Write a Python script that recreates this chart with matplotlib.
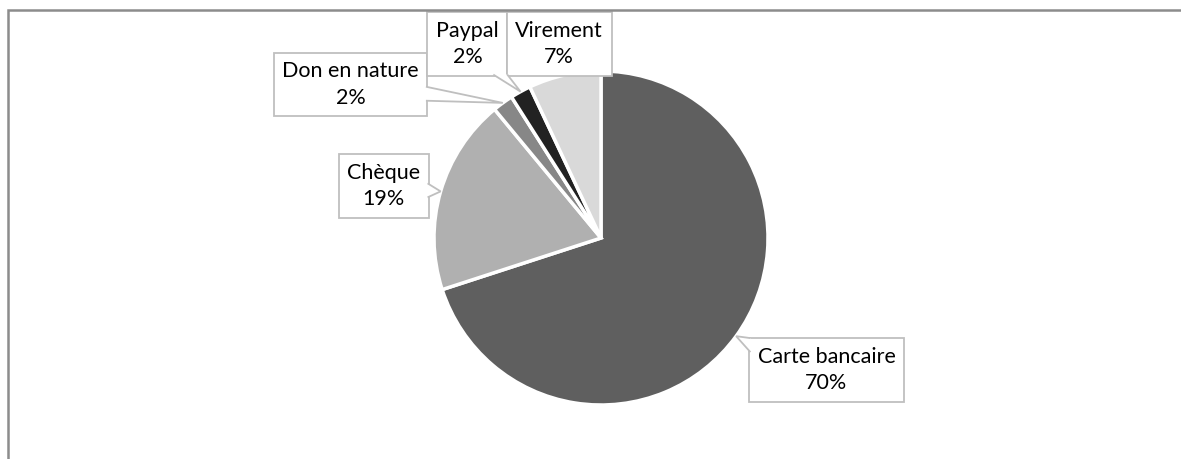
import numpy as np
import matplotlib.pyplot as plt
from matplotlib.patches import Rectangle, Polygon

# Répartition des dons par moyen de paiement
categories = ["Carte bancaire", "Chèque", "Don en nature", "Paypal", "Virement"]
shares = [70, 19, 2, 2, 7]
colors = ["#5f5f5f", "#b0b0b0", "#878787", "#222222", "#d9d9d9"]

# label centres (data units, pie radius = 1)
label_pos = [(1.35, -0.79), (-1.30, 0.31), (-1.50, 0.92), (-0.80, 1.16), (-0.25, 1.16)]

W, H = 1181, 459
cx, cy, r = 601, 238, 167  # pie centre / radius in pixels
EDGE = "#bfbfbf"

fig = plt.figure(figsize=(W / 100, H / 100), dpi=100)
ax = fig.add_axes([0, 0, 1, 1])

wedges, _ = ax.pie(shares, colors=colors, startangle=90, counterclock=False,
                   radius=1, center=(0, 0), frame=True,
                   wedgeprops=dict(edgecolor="white", linewidth=2.5))
ax.axis("off")
ax.set_xlim(-cx / r, (W - cx) / r)
ax.set_ylim(-(H - cy) / r, cy / r)

box = dict(boxstyle="square,pad=0.4", fc="white", ec=EDGE, lw=1.3)
labels = []
for w, name, val, (lx, ly) in zip(wedges, categories, shares, label_pos):
    mid = np.deg2rad((w.theta1 + w.theta2) / 2)
    tip = (np.cos(mid), np.sin(mid))
    t = ax.text(lx, ly, f"{name}\n{val}%", ha="center", va="center",
                fontsize=15.5, family="Lato", linespacing=1.4,
                color="black", bbox=box, zorder=5)
    labels.append((t, tip, name))

# callout pointers: triangle from the label box edge to the slice
fig.canvas.draw()
to_data = ax.transData.inverted()
half = 7  # half width of the pointer base, px
for t, tip, name in labels:
    if name == "Virement":
        continue
    bb = t.get_bbox_patch().get_window_extent()
    tx, ty = ax.transData.transform(tip)
    bx, by = (bb.x0 + bb.x1) / 2, (bb.y0 + bb.y1) / 2
    dx, dy = tx - bx, ty - by
    sx = (bb.width / 2) / abs(dx) if dx else np.inf
    sy = (bb.height / 2) / abs(dy) if dy else np.inf
    inset = 1.5
    if sx < sy:
        ex = bb.x1 - inset if dx > 0 else bb.x0 + inset
        ey = np.clip(by + dy * sx, bb.y0 + half, bb.y1 - half)
        base = [(ex, ey - half), (ex, ey + half)]
    else:
        ey = bb.y1 - inset if dy > 0 else bb.y0 + inset
        ex = np.clip(bx + dx * sy, bb.x0 + half, bb.x1 - half)
        base = [(ex - half, ey), (ex + half, ey)]
    pts = to_data.transform([base[0], (tx, ty), base[1]])
    ax.add_patch(Polygon(pts, closed=False, fc="white", ec=EDGE, lw=1.3,
                         zorder=6, joinstyle="miter"))

# outer chart frame (left and top edges visible)
fig.patches.append(Rectangle((8 / W, -0.5), 2, (H - 10) / H + 0.5,
                             transform=fig.transFigure, fill=False,
                             ec="#8c8c8c", lw=1.8, clip_on=False))

fig.savefig("out.png", dpi=100)
